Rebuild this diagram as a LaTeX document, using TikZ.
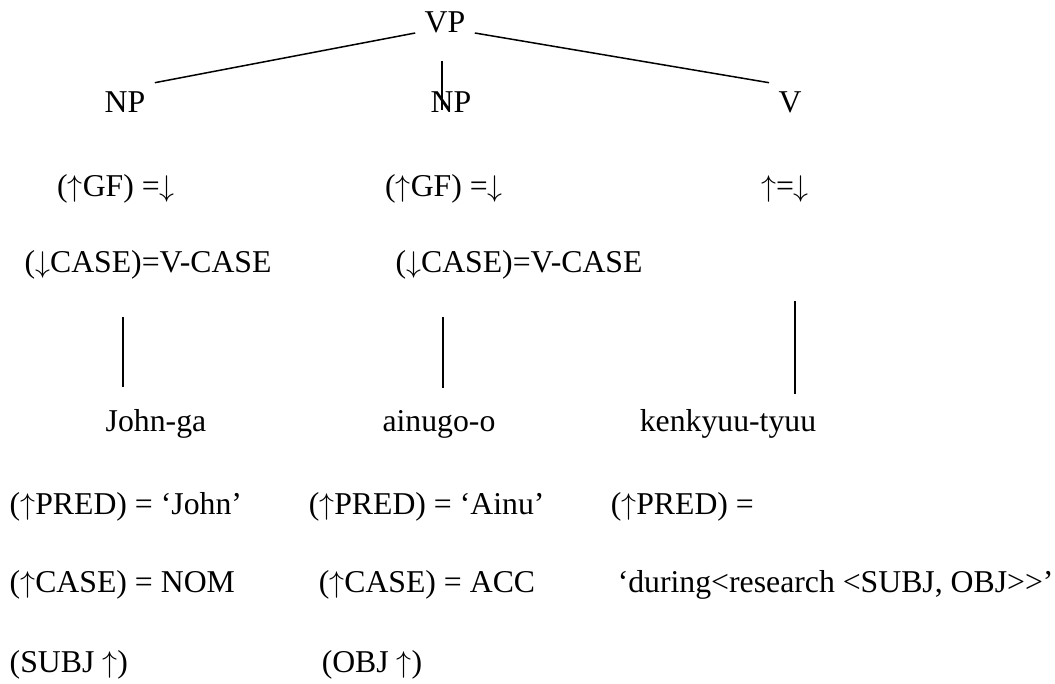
\documentclass[tikz,border=0pt]{standalone}
\usepackage{fontspec}
\setmainfont{Liberation Serif}
\newcommand\uparr{$\uparrow$}
\newcommand\dnarr{$\downarrow$}
\tikzset{every picture/.style={line width=.6pt}}

\begin{document}
\begin{tikzpicture}[x=.4pt,y=-.4pt,
  every node/.style={font=\fontsize{12.7}{14}\selectfont,inner sep=0pt},
  cat/.style={inner sep=3.5pt,anchor=base},
  eqn/.style={anchor=base},
  feat/.style={anchor=base west},
  branch/.style={black,line width=.6pt}]
  \useasboundingbox (0,0) rectangle (1055,684);

  % Phrase structure.
  \node[cat] (vp) at (445,33) {VP};
  \node[cat] (npl) at (125,113) {NP};
  \node[cat] (npm) at (451,113) {NP};
  \node[cat] (v) at (790,113) {V};
  \draw[branch] (vp.base west) -- (npl.north east);
  \draw[branch] (vp.base east) -- (v.north west);
  \coordinate (stem0) at (442,61);
  \draw[branch,shorten >=1.2pt] (stem0) -- (stem0 |- npm.base);

  % Annotations on the daughters.
  \node[eqn] (gfl) at (116,197) {(\uparr GF) =\dnarr};
  \node[eqn] (gfm) at (444,197) {(\uparr GF) =\dnarr};
  \node[eqn] (head) at (785,197) {\uparr=\dnarr};
  \node[eqn] (casel) at (148,273) {(\dnarr CASE)=V-CASE};
  \node[eqn] (casem) at (519,273) {(\dnarr CASE)=V-CASE};

  % Terminals.
  \node[cat] (john) at (156,432) {John-ga};
  \node[cat] (ainu) at (439,432) {ainugo-o};
  \node[cat] (kenk) at (728,432) {kenkyuu-tyuu};
  \coordinate (stem1) at (123,317);
  \coordinate (stem2) at (443,317);
  \coordinate (stem3) at (795,301);
  \draw[branch,shorten >=5.2pt] (stem1) -- (stem1 |- john.north);
  \draw[branch,shorten >=5.2pt] (stem2) -- (stem2 |- ainu.north);
  \draw[branch,shorten >=2.4pt] (stem3) -- (stem3 |- kenk.north);

  % Lexical entries.
  \node[feat] (predj) at (9,515) {(\uparr PRED) = ‘John’};
  \node[feat] (preda) at (308,515) {(\uparr PRED) = ‘Ainu’};
  \node[feat] (predk) at (610,515) {(\uparr PRED) =};
  \node[feat] (nom) at (9,593) {(\uparr CASE) = NOM};
  \node[feat] (acc) at (318,593) {(\uparr CASE) = ACC};
  \node[feat] (form) at (617,593) {‘during<research <SUBJ, OBJ>{}>’};
  \node[feat] (subj) at (9,673) {(SUBJ \uparr)};
  \node[feat] (obj) at (321,673) {(OBJ \uparr)};
\end{tikzpicture}
\end{document}
